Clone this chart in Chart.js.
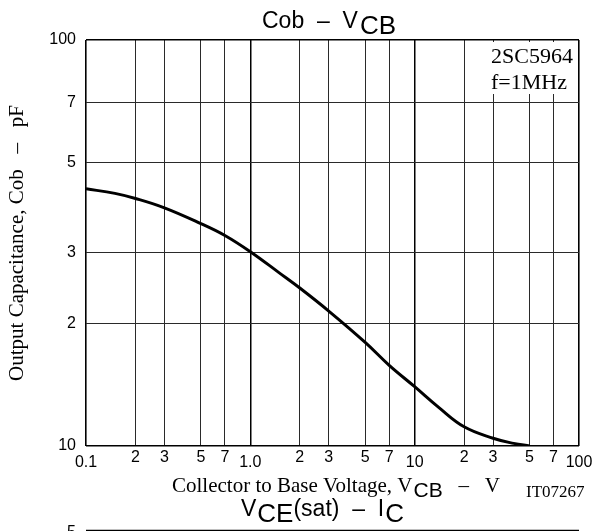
<!DOCTYPE html>
<html>
<head>
<meta charset="utf-8">
<script src="https://cdn.jsdelivr.net/npm/chart.js@4.4.1/dist/chart.umd.min.js"></script>
<style>
  html, body { margin: 0; padding: 0; background: #fff; }
  #wrap { width: 606px; height: 531px; position: relative; }
</style>
</head>
<body>
<div id="wrap"><canvas id="cv" width="606" height="531"></canvas></div>
<script>
// Cob – VCB characteristic of the 2SC5964 (f = 1 MHz)
const collectorBaseVoltage = [0.1, 0.15, 0.2, 0.3, 0.5, 0.7, 1, 1.5, 2, 3, 5, 7, 10, 14, 20, 30, 40, 50];
const outputCapacitance    = [43.0, 41.9, 40.7, 38.6, 35.3, 33.0, 30.1, 26.7, 24.5, 21.5, 18.0, 15.8, 14.0, 12.45, 11.15, 10.45, 10.15, 10.0];

const xTickValues = [0.1, 0.2, 0.3, 0.5, 0.7, 1, 2, 3, 5, 7, 10, 20, 30, 50, 70, 100];
const xTickLabels = ['0.1', '2', '3', '5', '7', '1.0', '2', '3', '5', '7', '10', '2', '3', '5', '7', '100'];
const yTickValues = [10, 20, 30, 50, 70, 100];
const yTickLabels = ['10', '2', '3', '5', '7', '100'];

const SANS = '"Liberation Sans", Arial, Helvetica, sans-serif';
const SERIF = '"Liberation Serif", "Times New Roman", Times, serif';

const isDecade = v => Math.abs(Math.log10(v) - Math.round(Math.log10(v))) < 1e-9;

function gridColor(ctx) {
  return ctx.tick && isDecade(ctx.tick.value) ? '#000' : '#2a2a2a';
}
function gridWidth(edgeValues) {
  return ctx => {
    if (!ctx.tick) return 1;
    if (edgeValues.includes(ctx.tick.value)) return 1.6;
    return isDecade(ctx.tick.value) ? 1.5 : 1;
  };
}

// draws a run of text pieces, each with its own font and vertical shift
function drawRuns(ctx, runs, x, y) {
  let cx = x;
  ctx.textAlign = 'left';
  ctx.textBaseline = 'alphabetic';
  for (const r of runs) {
    cx += r.gap || 0;
    ctx.font = r.font;
    ctx.fillText(r.text, cx, y + (r.dy || 0));
    cx += ctx.measureText(r.text).width;
  }
  return cx;
}

const labelsPlugin = {
  id: 'labels',
  afterDraw(chart) {
    const ctx = chart.ctx;
    const xs = chart.scales.x, ys = chart.scales.y;
    const area = chart.chartArea;
    ctx.save();
    ctx.fillStyle = '#000';

    // tick labels
    ctx.font = '16px ' + SANS;
    ctx.textAlign = 'center';
    ctx.textBaseline = 'middle';
    xTickValues.forEach((v, i) => {
      const major = isDecade(v);
      ctx.fillText(xTickLabels[i], xs.getPixelForValue(v), area.bottom + (major ? 17 : 12));
    });
    ctx.textAlign = 'right';
    yTickValues.forEach((v, i) => {
      ctx.fillText(yTickLabels[i], area.left - 10, ys.getPixelForValue(v));
    });

    // device note box
    ctx.fillStyle = '#fff';
    ctx.fillRect(486, area.top + 2, area.right - 487, 52);
    ctx.fillStyle = '#000';
    ctx.font = '22px ' + SERIF;
    ctx.textAlign = 'left';
    ctx.textBaseline = 'alphabetic';
    ctx.fillText('2SC5964', 491, 63);
    ctx.fillText('f=1MHz', 491, 89);

    // chart title
    const tf = '23px ' + SANS;
    const sf = '26px ' + SANS;
    drawRuns(ctx, [
      { text: 'Cob  \u2013  V', font: tf },
      { text: 'CB', font: sf, dy: 6, gap: 2 }
    ], 262, 28);

    // x-axis title
    const af = '21px ' + SERIF;
    drawRuns(ctx, [
      { text: 'Collector to Base Voltage, V', font: af },
      { text: 'CB', font: '21px ' + SANS, dy: 5, gap: 1 },
      { text: '   \u2013   V', font: af }
    ], 172, 492);
    ctx.font = '17px ' + SERIF;
    ctx.fillText('IT07267', 526, 497);

    // y-axis title
    ctx.save();
    ctx.translate(23, 243);
    ctx.rotate(-Math.PI / 2);
    ctx.font = '21px ' + SERIF;
    ctx.textAlign = 'center';
    ctx.fillText('Output Capacitance, Cob   \u2013   pF', 0, 0);
    ctx.restore();

    // heading of the following chart on the sheet
    drawRuns(ctx, [
      { text: 'V', font: tf },
      { text: 'CE', font: sf, dy: 6, gap: 1 },
      { text: '(sat)  \u2013  I', font: tf },
      { text: 'C', font: sf, dy: 6, gap: 1 }
    ], 241, 516);
    ctx.strokeStyle = '#000';
    ctx.lineWidth = 1.6;
    ctx.beginPath();
    ctx.moveTo(area.left, 530.5);
    ctx.lineTo(area.right, 530.5);
    ctx.stroke();
    ctx.font = '16px ' + SANS;
    ctx.textAlign = 'right';
    ctx.textBaseline = 'top';
    ctx.fillText('5', area.left - 10, 525);

    ctx.restore();
  }
};

new Chart(document.getElementById('cv'), {
  type: 'line',
  data: {
    datasets: [{
      data: collectorBaseVoltage.map((v, i) => ({ x: v, y: outputCapacitance[i] })),
      borderColor: '#000',
      borderWidth: 3,
      pointRadius: 0,
      fill: false,
      tension: 0.4
    }]
  },
  options: {
    responsive: false,
    animation: false,
    devicePixelRatio: 1,
    layout: { padding: { left: 86, top: 40, right: 27, bottom: 85 } },
    plugins: { legend: { display: false }, tooltip: { enabled: false } },
    scales: {
      x: {
        type: 'logarithmic',
        min: 0.1,
        max: 100,
        afterBuildTicks: s => { s.ticks = xTickValues.map(v => ({ value: v })); },
        ticks: { display: false },
        border: { display: false },
        grid: { drawTicks: false, color: gridColor, lineWidth: gridWidth([0.1, 100]) }
      },
      y: {
        type: 'logarithmic',
        min: 10,
        max: 100,
        afterBuildTicks: s => { s.ticks = yTickValues.map(v => ({ value: v })); },
        ticks: { display: false },
        border: { display: false },
        grid: { drawTicks: false, color: gridColor, lineWidth: gridWidth([10, 100]) }
      }
    }
  },
  plugins: [labelsPlugin]
});
</script>
</body>
</html>
